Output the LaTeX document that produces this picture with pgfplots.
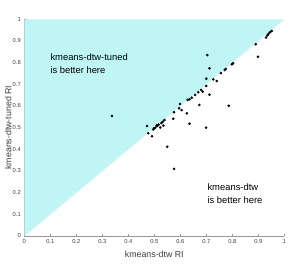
\documentclass[border=0pt]{standalone}
\usepackage{pgfplots}
\pgfplotsset{compat=1.18}
\usepackage{fontspec}
\setmainfont{Liberation Sans}
\definecolor{regfill}{RGB}{191,245,245}
\definecolor{axgray}{RGB}{150,150,150}
\definecolor{txtgray}{RGB}{60,60,60}
\begin{document}
\begin{tikzpicture}
\begin{axis}[
  scale only axis,
  width=260pt, height=216.7pt,
  xmin=0, xmax=1, ymin=0, ymax=1,
  axis lines*=left,
  axis line style={axgray, line width=0.5pt},
  tick style={axgray, line width=0.5pt},
  tick align=inside,
  major tick length=2.5pt,
  xtick={0,0.1,...,1}, ytick={0,0.1,...,1},
  xticklabels={0,0.1,0.2,0.3,0.4,0.5,0.6,0.7,0.8,0.9,1},
  yticklabels={0,0.1,0.2,0.3,0.4,0.5,0.6,0.7,0.8,0.9,1},
  ticklabel style={font=\fontsize{5.8}{6}\selectfont, text=txtgray},
  /pgf/number format/assume math mode=true,
  xlabel={kmeans-dtw RI},
  ylabel={kmeans-dtw-tuned RI},
  label style={font=\fontsize{8.8}{10}\selectfont, text=txtgray},
  xlabel style={at={(axis description cs:0.5,-0.083)}, anchor=center},
  ylabel style={at={(axis description cs:-0.062,0.5)}, anchor=center},
  clip=false,
]
\addplot[fill=regfill, draw=none, forget plot] coordinates {(0,0) (1,1) (0,1) (0,0)} -- cycle;
\addplot[only marks, mark=*, mark size=1.1pt, black] coordinates {
(0.337,0.554) (0.472,0.508) (0.477,0.474) (0.491,0.460) (0.496,0.492)
(0.499,0.497) (0.504,0.500) (0.509,0.511) (0.512,0.508) (0.517,0.514)
(0.523,0.501) (0.527,0.521) (0.532,0.527) (0.535,0.509) (0.539,0.535)
(0.550,0.412) (0.576,0.310) (0.573,0.541) (0.576,0.571) (0.595,0.589)
(0.599,0.609) (0.605,0.581) (0.625,0.566) (0.635,0.518) (0.628,0.628)
(0.635,0.631) (0.644,0.638) (0.657,0.651) (0.669,0.663) (0.673,0.605)
(0.680,0.674) (0.686,0.666) (0.699,0.500) (0.700,0.692) (0.700,0.726)
(0.704,0.835) (0.712,0.774) (0.712,0.652) (0.727,0.723) (0.740,0.715)
(0.756,0.752) (0.771,0.766) (0.775,0.771) (0.786,0.601) (0.798,0.792)
(0.803,0.797) (0.890,0.885) (0.899,0.827) (0.930,0.916) (0.935,0.926)
(0.940,0.934) (0.946,0.941) (0.952,0.946)
};
\node[anchor=west, align=left, font=\fontsize{9.4}{13.3}\selectfont, inner sep=0pt]
  at (axis cs:0.10,0.794) {kmeans-dtw-tuned\\is better here};
\node[anchor=west, align=left, font=\fontsize{9.4}{13.3}\selectfont, inner sep=0pt]
  at (axis cs:0.704,0.194) {kmeans-dtw\\is better here};
\end{axis}
\pgfresetboundingbox
\path[use as bounding box] ([shift={(-24.3pt,-29pt)}]current axis.south west) rectangle ([shift={(14.7pt,19.3pt)}]current axis.north east);
\end{tikzpicture}
\end{document}
